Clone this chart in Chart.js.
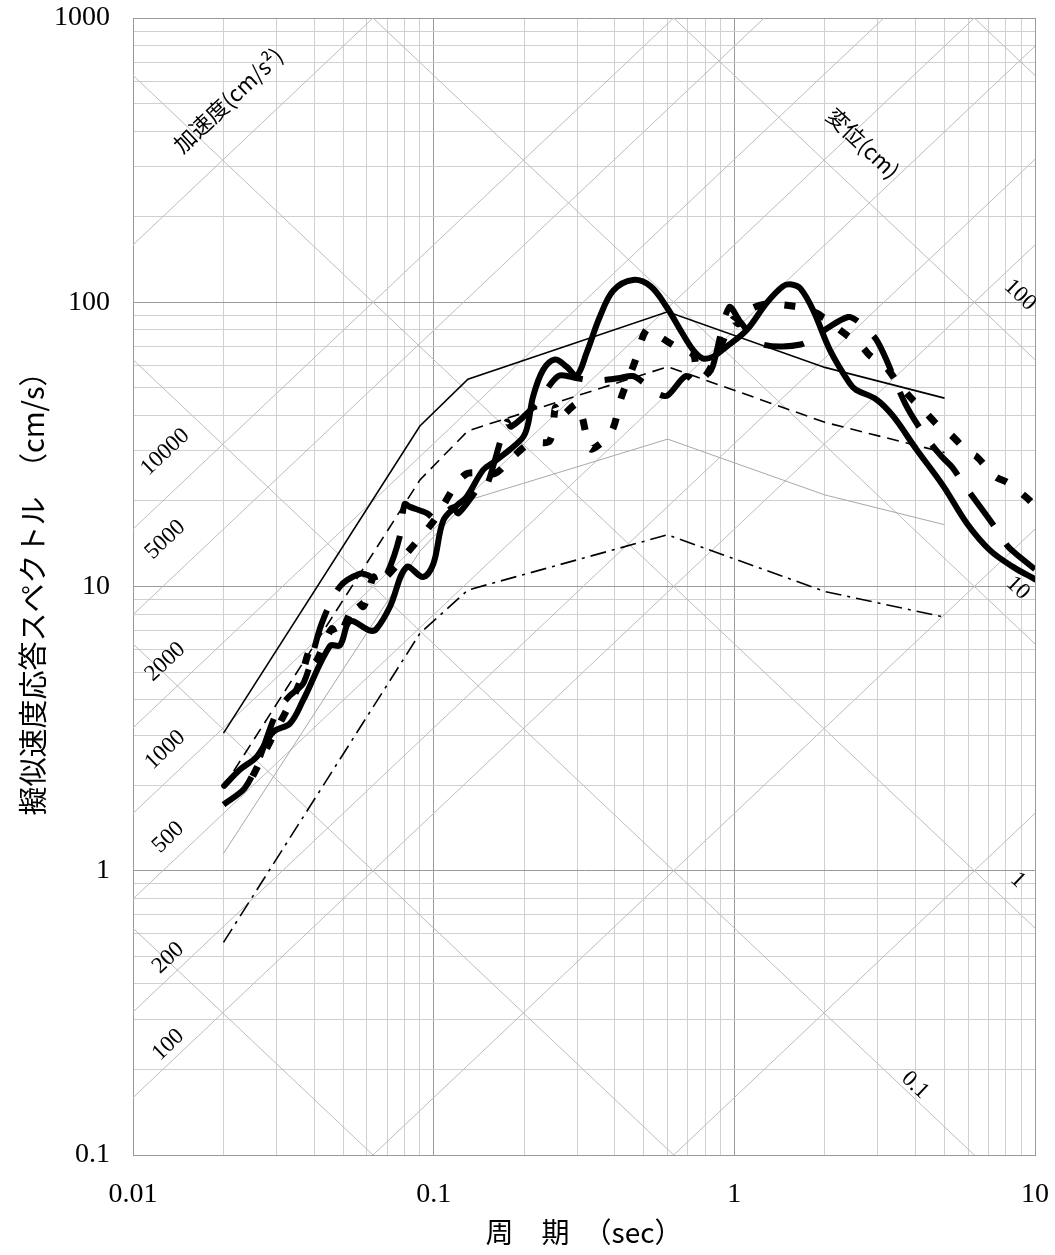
<!DOCTYPE html>
<html>
<head>
<meta charset="utf-8">
<script src="https://cdn.jsdelivr.net/npm/chart.js@4.4.1/dist/chart.umd.min.js"></script>
<style>
  body { margin: 0; background: #fff; }
</style>
</head>
<body>
<canvas id="chart" width="1055" height="1255"></canvas>
<script>
// corner periods of the four thin reference spectra
const designT = [0.02, 0.09, 0.13, 0.6, 2, 5];
const designSv1 = [3.05, 36.7, 53.6, 92.6, 59, 46];      // thin solid
const designSv2 = [1.97, 23.7, 35.3, 59.3, 37.8, 29.6];  // thin dashed
const designSv3 = [1.15, 13.3, 20.1, 33.0, 21.0, 16.5];  // thin grey
const designSv4 = [0.56, 6.84, 9.72, 15.2, 9.6, 7.8];    // dash-dot

// observed spectra (thick lines)
const solidT = [0.0201, 0.0227, 0.0258, 0.0293, 0.0333, 0.0368, 0.0452, 0.0488, 0.0527, 0.0613,
  0.0646, 0.0716, 0.0812, 0.0922, 0.0997, 0.1077, 0.119, 0.1288, 0.146, 0.1584,
  0.1798, 0.1986, 0.206, 0.214, 0.231, 0.253, 0.277, 0.299, 0.323, 0.357,
  0.396, 0.46, 0.527, 0.594, 0.67, 0.73, 0.785, 0.85, 0.94, 1.10,
  1.28, 1.45, 1.55, 1.66, 1.83, 2.08, 2.42, 2.54, 2.96, 3.37,
  4.03, 4.95, 5.93, 7.09, 8.48, 10];
const solidSv = [1.99, 2.27, 2.52, 3.08, 3.30, 3.98, 6.18, 6.21, 7.54, 7.0,
  7.1, 8.5, 11.7, 10.8, 12.0, 17.1, 19.2, 20.7, 25.7, 27.4,
  30.4, 33.6, 37.3, 46.5, 57.7, 62.9, 59.3, 55.2, 66.6, 88.9,
  110, 119.8, 113.8, 96.6, 78.1, 67.9, 63.5, 64.4, 69.7, 79.9,
  99.4, 113.8, 115.5, 111.6, 93.6, 67.9, 51.8, 49.2, 45.6, 39.8,
  30.4, 22.6, 16.7, 13.4, 11.7, 10.6];

const longDashT = [0.02, 0.0235, 0.026, 0.03, 0.033, 0.037, 0.0424, 0.0488, 0.057, 0.061,
  0.066, 0.07, 0.077, 0.08, 0.083, 0.095, 0.102, 0.116, 0.121, 0.145,
  0.15, 0.175, 0.181, 0.22, 0.26, 0.3, 0.34, 0.41, 0.46, 0.5,
  0.56, 0.6, 0.69, 0.75, 0.82, 0.85, 0.96, 1.05, 1.22, 1.66,
  2.0, 2.39, 2.6, 3.0, 3.7, 4.3, 4.9, 5.3, 5.9, 7.2,
  8.1, 8.6, 10];
const longDashSv = [1.71, 1.95, 2.4, 3.6, 4.1, 4.6, 7.4, 10.0, 11.1, 10.9,
  10.4, 11.1, 14.9, 19.5, 19.1, 18.1, 17.2, 19.0, 18.1, 23.0,
  22.5, 38, 36.5, 44, 55, 54, 53, 54, 55, 52,
  47.5, 47, 55, 52, 56, 60, 96, 85, 71.5, 71,
  80, 88.7, 85, 72.5, 44, 34, 28.6, 26.3, 22.3, 16.7,
  13.9, 13.1, 11.5];

const dotT = [0.025, 0.0286, 0.0355, 0.0388, 0.0403, 0.0458, 0.048, 0.0554, 0.0584, 0.063,
  0.065, 0.087, 0.1, 0.127, 0.16, 0.18, 0.21, 0.243, 0.254, 0.261,
  0.3, 0.31, 0.325, 0.335, 0.39, 0.42, 0.465, 0.51, 0.55, 0.65,
  0.73, 0.75, 0.8, 0.9, 0.99, 1.03, 1.1, 1.27, 1.6, 1.77,
  1.9, 1.97, 2.08, 2.24, 2.65, 2.82, 3.2, 3.45, 3.9, 4.2,
  4.8, 5.2, 6.0, 6.4, 7.4, 8.1, 9.4, 10];
const dotSv = [2.15, 2.85, 4.47, 6.0, 5.4, 7.1, 6.6, 8.9, 8.5, 10.8,
  10.1, 14.2, 17, 24.7, 25, 28, 32, 32.5, 42.6, 39.2,
  44, 40.6, 32.6, 30.4, 35, 46, 61, 80, 77, 69,
  65.5, 57.7, 55, 70, 87, 84, 93, 98.5, 96.6, 93.6,
  91, 88.6, 86, 80, 70, 65, 59, 53, 45.6, 42.4,
  36.5, 34.5, 29.7, 28.6, 24.3, 23.2, 20.5, 19.2];

// axis ticks
const xTickValues = [0.01, 0.1, 1, 10];
const xTickLabels = ["0.01", "0.1", "1", "10"];
const yTickValues = [0.1, 1, 10, 100, 1000];
const yTickLabels = ["0.1", "1", "10", "100", "1000"];

// tripartite guide lines: acceleration (cm/s2) and displacement (cm)
const accelLines = [1, 10, 100, 200, 500, 1000, 2000, 5000, 10000, 100000];
const dispLines = [0.001, 0.01, 0.1, 1, 10, 100, 1000];

// where the guide labels sit, in period / velocity units
const guideLabels = [
  { text: "10000", t: 0.0128, v: 29.7, kind: "acc" },
  { text: "5000", t: 0.0128, v: 14.6, kind: "acc" },
  { text: "2000", t: 0.0128, v: 5.43, kind: "acc" },
  { text: "1000", t: 0.0128, v: 2.66, kind: "acc" },
  { text: "500", t: 0.0131, v: 1.31, kind: "acc" },
  { text: "200", t: 0.0131, v: 0.493, kind: "acc" },
  { text: "100", t: 0.0131, v: 0.244, kind: "acc" },
  { text: "加速度(cm/s²)", t: 0.0207, v: 514, kind: "acc", cjk: true },
  { text: "変位(cm)", t: 2.68, v: 363, kind: "disp", cjk: true },
  { text: "100", t: 8.91, v: 106, kind: "disp" },
  { text: "10", t: 8.77, v: 9.88, kind: "disp" },
  { text: "1", t: 8.77, v: 0.928, kind: "disp" },
  { text: "0.1", t: 3.99, v: 0.176, kind: "disp" }
];

function toPoints(xs, ys) {
  return xs.map((x, i) => ({ x: x, y: ys[i] }));
}

function logTicks(min, max) {
  const out = [];
  for (let e = Math.floor(Math.log10(min)); e <= Math.ceil(Math.log10(max)); e++) {
    for (let m = 1; m < 10; m++) {
      const v = Number((m * Math.pow(10, e)).toPrecision(6));
      if (v >= min - 1e-12 && v <= max + 1e-9) out.push(v);
    }
  }
  return out;
}

function isDecade(v) {
  const l = Math.log10(v);
  return Math.abs(l - Math.round(l)) < 1e-6;
}

function labelFor(values, labels, v) {
  const i = values.findIndex(t => Math.abs(t - v) < t * 1e-6);
  return i >= 0 ? labels[i] : "";
}

const tripartite = {
  id: "tripartite",
  beforeDatasetsDraw(chart) {
    const { ctx, chartArea, scales } = chart;
    const x = scales.x, y = scales.y;
    const t0 = x.min, t1 = x.max;
    const twoPi = 2 * Math.PI;

    ctx.save();
    ctx.beginPath();
    ctx.rect(chartArea.left, chartArea.top, chartArea.right - chartArea.left, chartArea.bottom - chartArea.top);
    ctx.clip();
    ctx.strokeStyle = "#bdbdbd";
    ctx.lineWidth = 1;

    function seg(ta, va, tb, vb) {
      ctx.beginPath();
      ctx.moveTo(x.getPixelForValue(ta), y.getPixelForValue(va));
      ctx.lineTo(x.getPixelForValue(tb), y.getPixelForValue(vb));
      ctx.stroke();
    }
    accelLines.forEach(a => seg(t0, a * t0 / twoPi, t1, a * t1 / twoPi));
    dispLines.forEach(d => seg(t0, twoPi * d / t0, t1, twoPi * d / t1));
    ctx.restore();

    // slope of the guide lines on screen
    const dx = x.getPixelForValue(1) - x.getPixelForValue(0.1);
    const dy = y.getPixelForValue(1) - y.getPixelForValue(10);
    const ang = Math.atan2(dy, dx);

    ctx.save();
    ctx.fillStyle = "#000";
    ctx.textAlign = "center";
    ctx.textBaseline = "middle";
    guideLabels.forEach(l => {
      ctx.save();
      ctx.translate(x.getPixelForValue(l.t), y.getPixelForValue(l.v));
      ctx.rotate(l.kind === "acc" ? -ang : ang);
      ctx.font = l.cjk ? '22px "Noto Sans CJK JP"' : '23px "Liberation Serif"';
      ctx.fillText(l.text, 0, 0);
      ctx.restore();
    });
    ctx.restore();
  }
};

const gridColor = c => (c.tick && isDecade(c.tick.value)) ? "#9a9a9a" : "#d0d0d0";
const tickFont = { family: '"Liberation Serif", serif', size: 28 };

new Chart(document.getElementById("chart"), {
  type: "line",
  data: {
    datasets: [
      {
        label: "solid",
        data: toPoints(solidT, solidSv),
        borderColor: "#000",
        borderWidth: 6,
        tension: 0.35,
        borderJoinStyle: "round",
        borderCapStyle: "round"
      },
      {
        label: "long dash",
        data: toPoints(longDashT, longDashSv),
        borderColor: "#000",
        borderWidth: 6,
        tension: 0.3,
        borderDash: [40, 22],
        borderCapStyle: "butt"
      },
      {
        label: "dotted",
        data: toPoints(dotT, dotSv),
        borderColor: "#000",
        borderWidth: 7,
        tension: 0.3,
        borderDash: [11, 20],
        borderCapStyle: "butt"
      },
      {
        label: "design 1",
        data: toPoints(designT, designSv1),
        borderColor: "#000",
        borderWidth: 1.6,
        tension: 0
      },
      {
        label: "design 2",
        data: toPoints(designT, designSv2),
        borderColor: "#000",
        borderWidth: 1.6,
        borderDash: [12, 7],
        tension: 0
      },
      {
        label: "design 3",
        data: toPoints(designT, designSv3),
        borderColor: "#a8a8a8",
        borderWidth: 1,
        tension: 0
      },
      {
        label: "design 4",
        data: toPoints(designT, designSv4),
        borderColor: "#000",
        borderWidth: 1.6,
        borderDash: [16, 6, 3, 6],
        tension: 0
      }
    ]
  },
  options: {
    responsive: false,
    animation: false,
    events: [],
    elements: { point: { radius: 0 } },
    layout: { padding: { top: 18, right: 20, left: 0, bottom: 0 } },
    plugins: {
      legend: { display: false },
      tooltip: { enabled: false }
    },
    scales: {
      x: {
        type: "logarithmic",
        min: 0.01,
        max: 10,
        afterBuildTicks: s => { s.ticks = logTicks(0.01, 10).map(v => ({ value: v })); },
        afterFit: s => { s.height = 100; s.paddingLeft = 0; s.paddingRight = 0; },
        grid: { color: gridColor, drawTicks: false, lineWidth: 1 },
        border: { color: "#9a9a9a" },
        ticks: {
          autoSkip: false,
          maxRotation: 0,
          minRotation: 0,
          padding: 23,
          color: "#000",
          font: tickFont,
          callback: v => labelFor(xTickValues, xTickLabels, v)
        },
        title: {
          display: true,
          text: "周　期　（sec）",
          color: "#000",
          font: { family: '"Noto Sans CJK JP"', size: 28 },
          padding: { top: 0, bottom: 6 }
        }
      },
      y: {
        type: "logarithmic",
        min: 0.1,
        max: 1000,
        afterBuildTicks: s => { s.ticks = logTicks(0.1, 1000).map(v => ({ value: v })); },
        afterFit: s => { s.width = 133; s.paddingTop = 0; s.paddingBottom = 0; },
        grid: { color: gridColor, drawTicks: false, lineWidth: 1 },
        border: { color: "#9a9a9a" },
        ticks: {
          autoSkip: false,
          padding: 23,
          color: "#000",
          font: tickFont,
          callback: v => labelFor(yTickValues, yTickLabels, v)
        },
        title: {
          display: true,
          text: "擬似速度応答スペクトル　（cm/s）",
          color: "#000",
          font: { family: '"Noto Sans CJK JP"', size: 29 },
          padding: { top: 16, bottom: 0 }
        }
      }
    }
  },
  plugins: [tripartite]
});
</script>
</body>
</html>
